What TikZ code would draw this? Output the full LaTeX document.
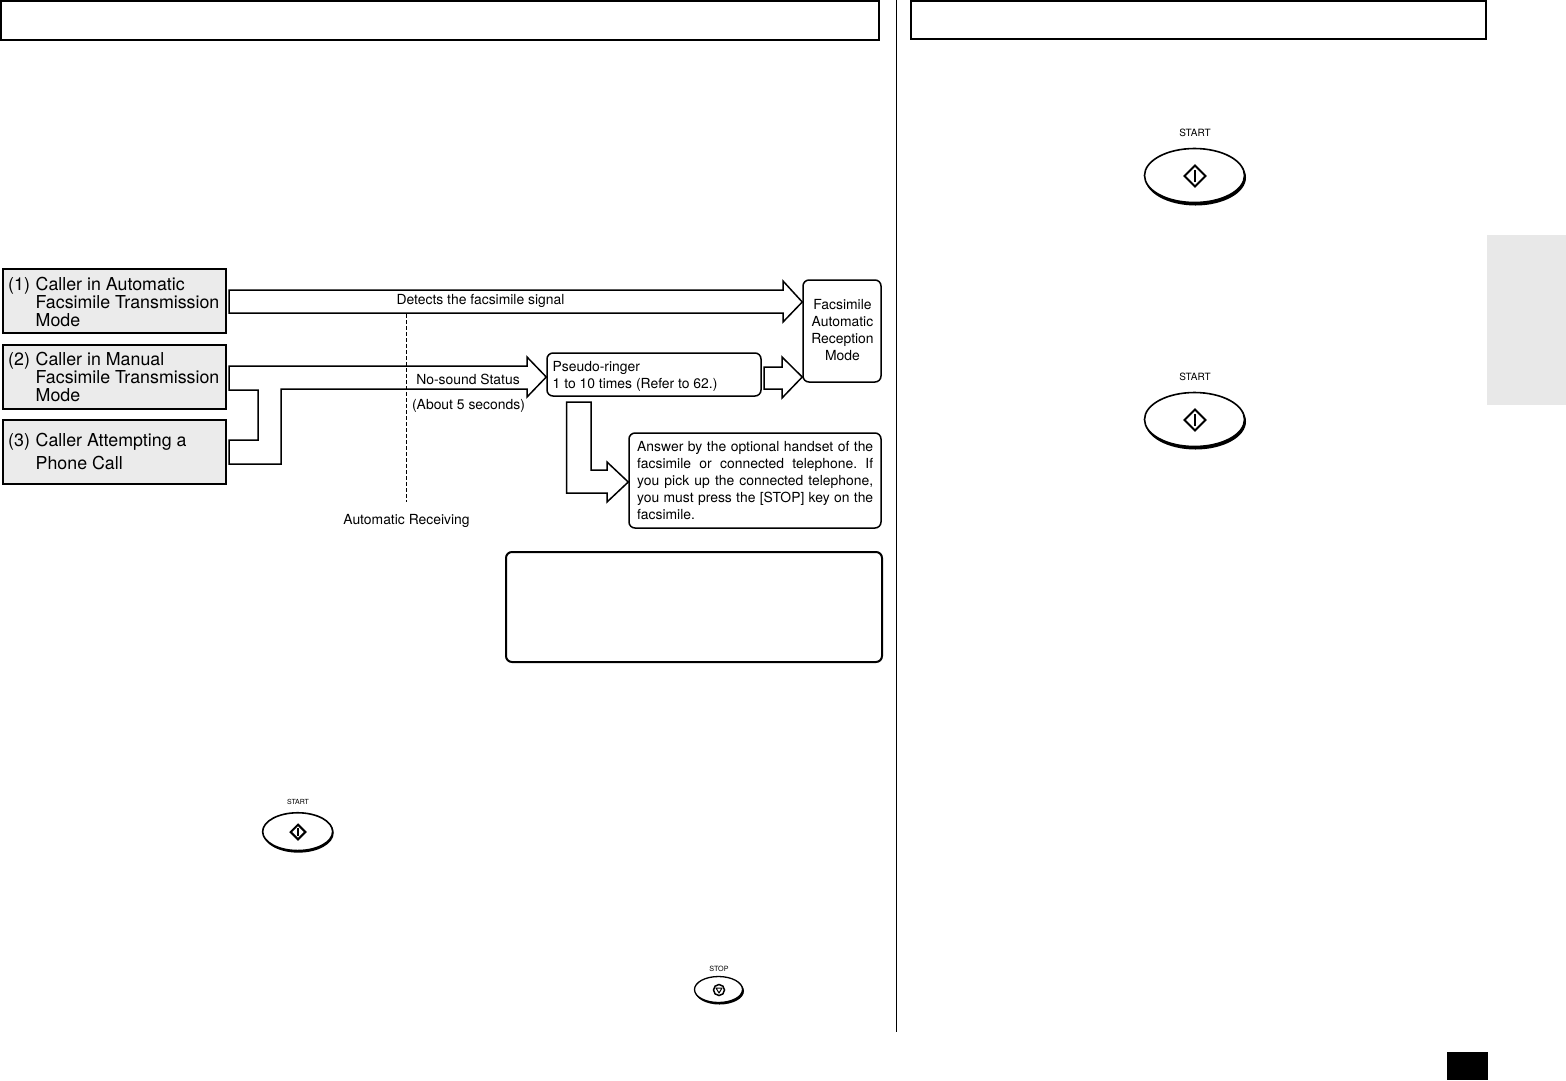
\documentclass[tikz,border=0pt]{standalone}
\usepackage{fontspec}
\setmainfont{TeX Gyre Heros}
\frenchspacing
\begin{document}
\begin{tikzpicture}[x=1pt,y=-1pt,
  header/.style={draw=black,line width=2pt,fill=white},
  caller/.style={draw=black,line width=2pt,fill=black!8,minimum width=223pt,minimum height=64pt,inner sep=0pt},
  callertext/.style={font=\fontsize{17.8}{18}\selectfont,anchor=base west,inner sep=0pt},
  soft/.style={draw=black,line width=1.5pt,rounded corners=6pt,fill=white,inner sep=0pt},
  blockarrow/.style={draw=black,line width=1.5pt,fill=white,line join=miter},
  small/.style={font=\fontsize{13.9}{17}\selectfont,inner sep=0pt},
  keylabel/.style={inner sep=0pt},
  keybody/.style={draw=black,fill=white},
  keyshade/.style={fill=black}]
\useasboundingbox (0,0) rectangle (1566,1080);
\fill[white] (0,0) rectangle (1566,1080);
% page furniture
\draw[header] (1,1) rectangle (879,40);
\draw[header] (911,1) rectangle (1486,39);
\draw[line width=1pt] (896.5,0) -- (896.5,1032);
\fill[black!9] (1487,235) rectangle (1566,405);
\fill[black] (1447,1052) rectangle (1488,1080);
% nodes
\node[caller] (c1) at (114.5,301) {};
\node[caller] (c2) at (114.5,377) {};
\node[caller] (c3) at (114.5,452) {};
\node[callertext] at (8,290) {(1)};
\node[callertext] at (35.5,290) {Caller in Automatic};
\node[callertext] at (35.5,308) {Facsimile Transmission};
\node[callertext] at (35.5,326) {Mode};
\node[callertext] at (8,365) {(2)};
\node[callertext] at (35.5,365) {Caller in Manual};
\node[callertext] at (35.5,383) {Facsimile Transmission};
\node[callertext] at (35.5,401) {Mode};
\node[callertext] at (8,446) {(3)};
\node[callertext] at (35.5,446) {Caller Attempting a};
\node[callertext] at (35.5,469) {Phone Call};
\node[soft,minimum width=78pt,minimum height=102pt] (facs) at (842,331) {};
\node[small,align=center] at (842.5,330) {Facsimile\\Automatic\\Reception\\Mode};
\node[soft,minimum width=214pt,minimum height=43pt] (pseudo) at (654,374.5) {};
\node[small,align=left,anchor=west] at (552.5,376) {Pseudo-ringer\\1 to 10 times (Refer to 62.)};
\node[soft,minimum width=252pt,minimum height=95pt] (answer) at (755,480.5) {};
\node[small,anchor=west,align=left] at (637,480.5) {%
\makebox[236pt][s]{Answer by the optional handset of the}\\
\makebox[236pt][s]{facsimile or connected telephone. If}\\
\makebox[236pt][s]{you pick up the connected telephone,}\\
\makebox[236pt][s]{you must press the [STOP] key on the}\\
facsimile.};
\node[draw=black,line width=2pt,rounded corners=6pt,minimum width=376pt,minimum height=110pt,inner sep=0pt] (note) at (694,607) {};
% block arrows
\draw[blockarrow] (229,290) -- (783,290) -- (783,281) -- (facs.west |- 0,302) -- (783,322) -- (783,313) -- (229,313) -- cycle;
\draw[blockarrow] (229,366) -- (527,366) -- (527,357) -- (pseudo.west |- 0,377) -- (527,397) -- (527,389) -- (281,389) -- (281,464) -- (229,464) -- (229,440) -- (258,440) -- (258,390) -- (229,390) -- cycle;
\draw[blockarrow] (764,367) -- (782,367) -- (782,357) -- (facs.west |- 0,377) -- (782,398) -- (782,389) -- (764,389) -- cycle;
\draw[blockarrow] (566.5,402) -- (591,402) -- (591,470) -- (607,470) -- (607,462) -- (answer.west |- 0,482) -- (607,502) -- (607,493) -- (566.5,493) -- cycle;
% dashed line
\coordinate (dtop) at (406,314);
\coordinate (dbot) at (406,502);
\draw[line width=1pt,dash pattern=on 4pt off 2pt] (dtop) -- (dbot);
% labels
\node[small] (l1) at (480.5,300.5) {Detects the facsimile signal};
\node[small] (l2) at (468,379) {No-sound Status};
\node[small] (l3) at (468.5,406) {(About 5 seconds)};
\node[small] (l4) at (406.5,521) {Automatic Receiving};
% START keys
\foreach \nm/\cx/\cy/\s in {ka/1195/176/1,kb/1195/420/1,kc/298/832/0.70}{
  \begin{scope}[shift={(\cx,\cy)},x=\s pt,y=-\s pt]
    \fill[keyshade] (0.5,1.5) ellipse [x radius=50.5,y radius=28];
    \draw[keybody,line width=1.6pt] (-0.5,-0.5) ellipse [x radius=50,y radius=27];
    \draw[line width=2pt,line join=miter] (0,-10.5) -- (10.5,0) -- (0,10.5) -- (-10.5,0) -- cycle;
    \draw[line width=1.3pt] (0,-6) -- (0,6);
    \node[keylabel,font=\fontsize{10}{10}\selectfont] (\nm) at (0,-43) {\scalebox{\s}{START}};
  \end{scope}
}
% STOP key
\begin{scope}[shift={(719,990)}]
  \fill[keyshade] (0.5,1) ellipse [x radius=24.5,y radius=13.5];
  \draw[keybody,line width=1.3pt] (-0.5,-0.5) ellipse [x radius=24,y radius=13];
  \draw[line width=1.5pt] (0,0) circle (5.5);
  \draw[line width=1pt,line join=round] (-3,-2) -- (3,-2) -- (0,3) -- cycle;
  \node[keylabel,font=\fontsize{7.2}{7}\selectfont] (ks) at (0,-21) {STOP};
\end{scope}
\end{tikzpicture}
\end{document}
